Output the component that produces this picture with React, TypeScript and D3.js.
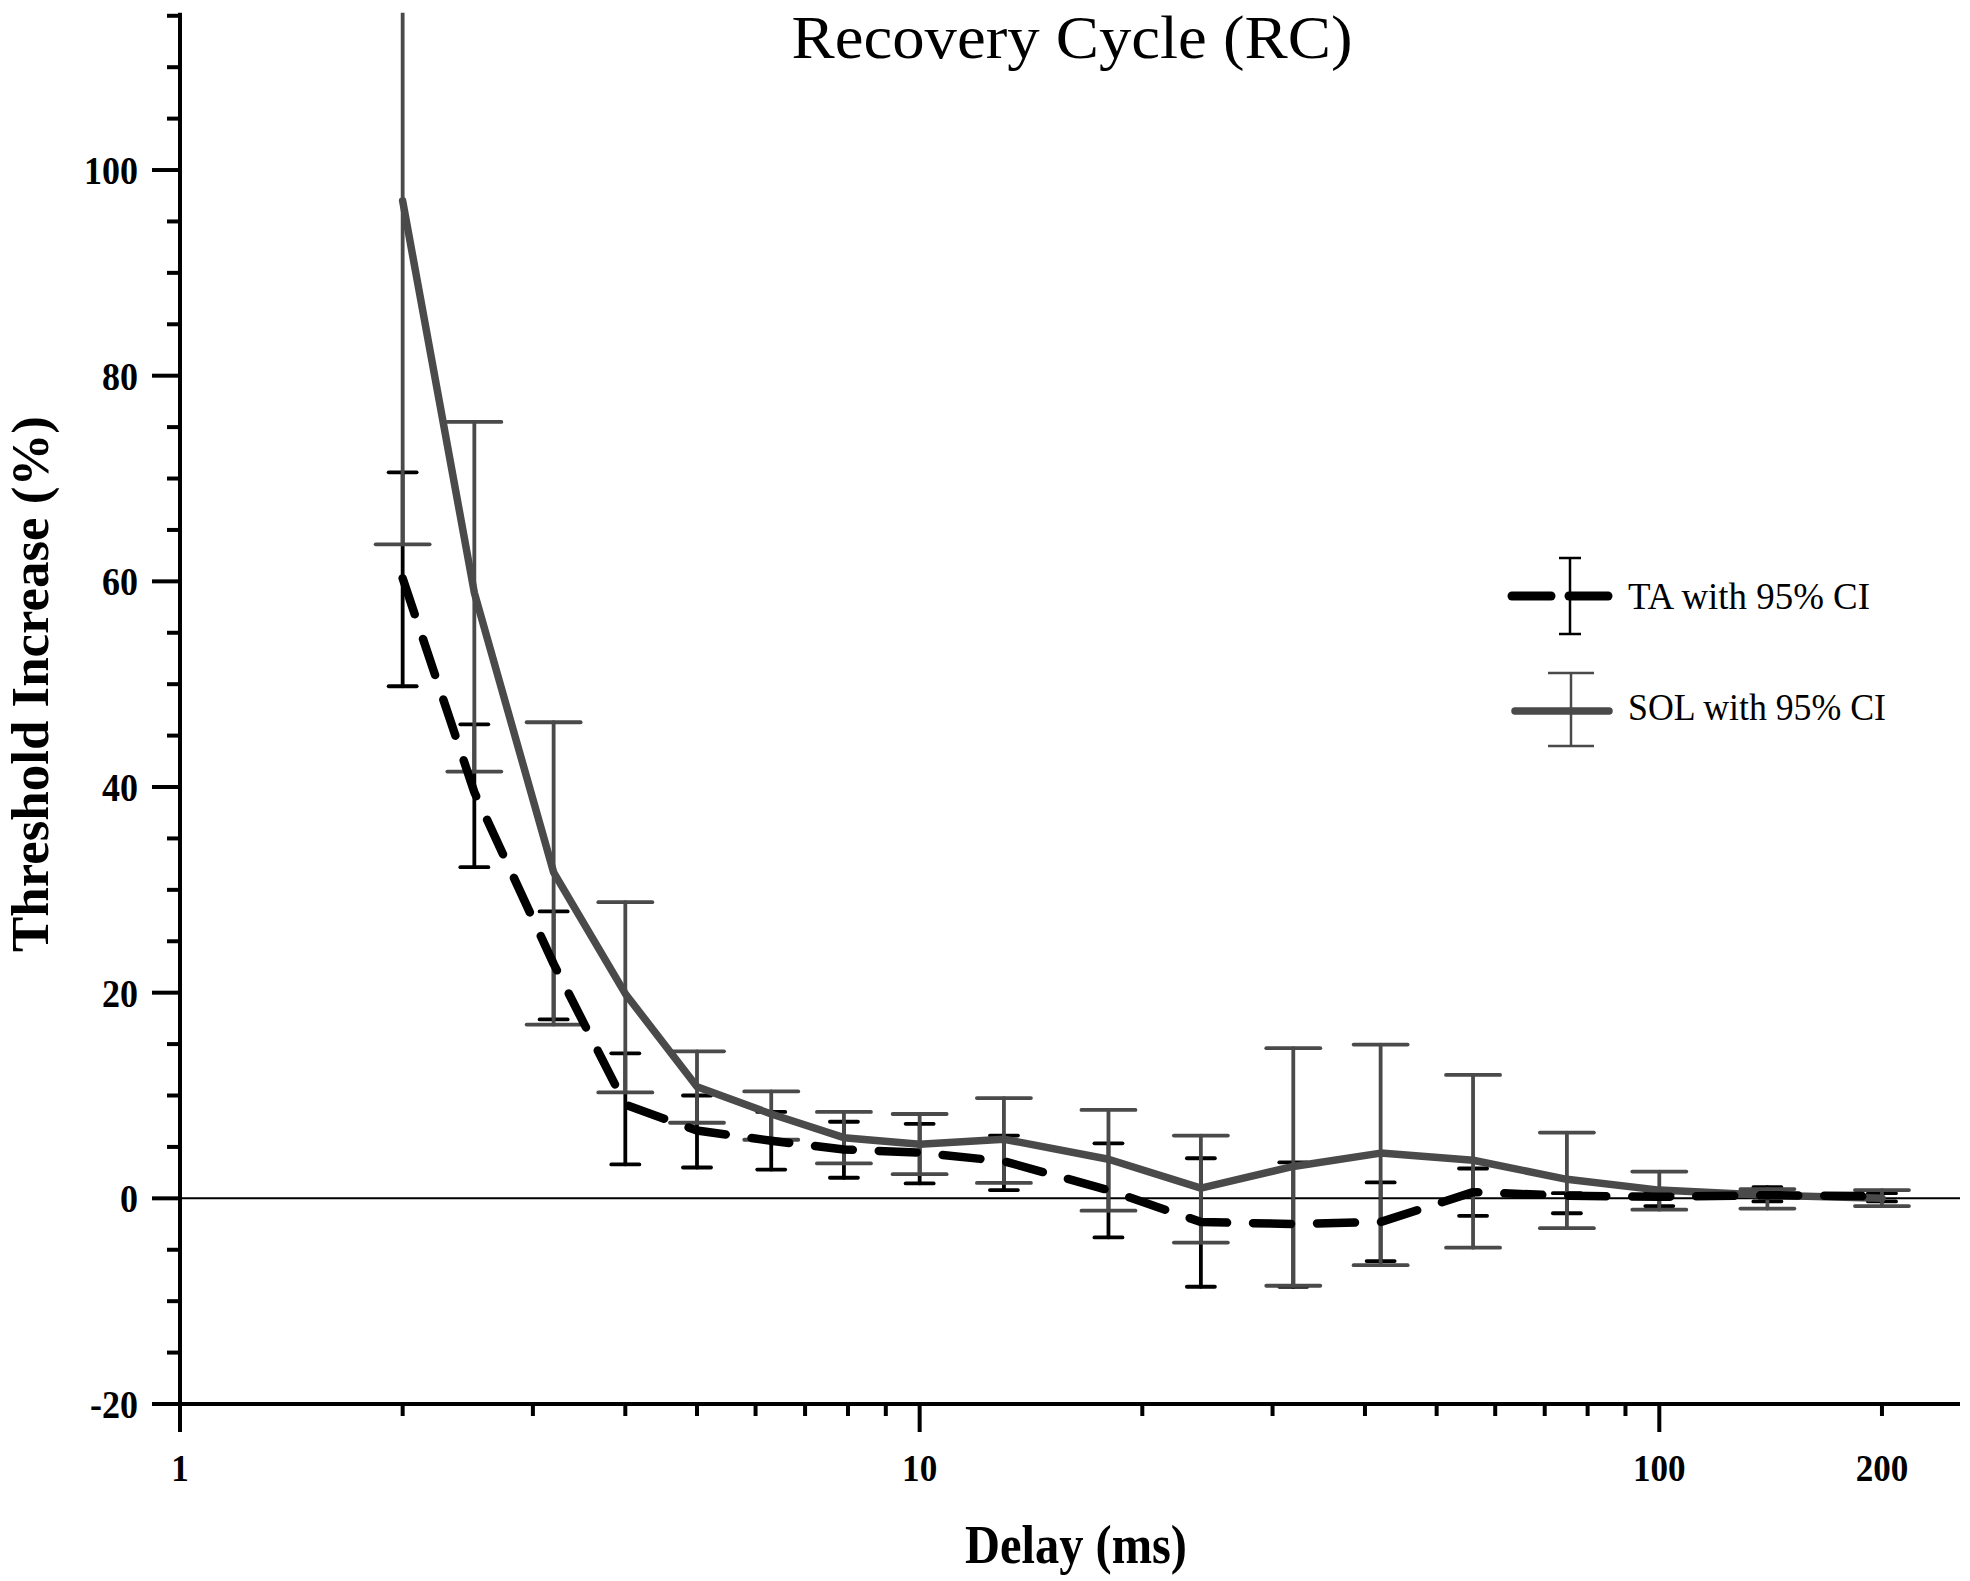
import React from 'react';
import * as d3 from 'd3';

// Conditioning-test delays (ms)
const delays = [2, 2.5, 3.2, 4, 5, 6.3, 7.9, 10, 13, 18, 24, 32, 42, 56, 75, 100, 140, 200];

// TA: mean threshold increase (%) with 95% CI
const taMean = [60.3, 39.5, 22.8, 9.1, 6.6, 5.6, 4.75, 4.45, 3.6, 0.8, -2.3, -2.5, -2.3, 0.6, 0.25, 0.15, 0.3, 0.2];
const taUpper = [70.6, 46.1, 27.9, 14.1, 10.0, 8.4, 7.45, 7.25, 6.1, 5.35, 3.9, 3.5, 1.55, 2.9, 0.5, 0.5, 1.1, 0.5];
const taLower = [49.8, 32.2, 17.4, 3.3, 3.0, 2.8, 2.0, 1.45, 0.8, -3.8, -8.6, -8.6, -6.1, -1.7, -1.45, -0.75, -0.3, -0.3];

// SOL: mean threshold increase (%) with 95% CI
const solMean = [97.0, 58.9, 31.7, 19.9, 10.85, 8.2, 5.9, 5.25, 5.75, 3.8, 1.0, 3.1, 4.4, 3.7, 1.85, 0.8, 0.3, 0.0];
const solUpper = [130, 75.5, 46.3, 28.8, 14.3, 10.4, 8.4, 8.2, 9.75, 8.6, 6.1, 14.6, 14.95, 12.0, 6.4, 2.6, 0.9, 0.8];
const solLower = [63.6, 41.5, 16.9, 10.3, 7.35, 5.7, 3.4, 2.35, 1.5, -1.2, -4.3, -8.5, -6.5, -4.8, -2.9, -1.1, -1.0, -0.75];

const xTickLabels = [1, 10, 100, 200];
const yTickLabels = [-20, 0, 20, 40, 60, 80, 100];

const W = 1970;
const H = 1581;
const SERIF = '"Liberation Serif", "Times New Roman", serif';
const SOL_COLOR = '#4a4a4a';

interface Pt {
  delay: number;
  mean: number;
  lo: number;
  hi: number;
}

const ta: Pt[] = delays.map((d, i) => ({ delay: d, mean: taMean[i], lo: taLower[i], hi: taUpper[i] }));
const sol: Pt[] = delays.map((d, i) => ({ delay: d, mean: solMean[i], lo: solLower[i], hi: solUpper[i] }));

export default function App() {
  const x = d3.scaleLog().domain([1, 255]).range([180, 1960]);
  const y = d3.scaleLinear().domain([-20, 115.3]).range([1404, 12.7]);

  const line = d3.line<Pt>()
    .x(d => x(d.delay))
    .y(d => y(d.mean));

  const xTicks = x.ticks();
  const isMajorX = (v: number) => Math.abs(Math.log10(v) - Math.round(Math.log10(v))) < 1e-9;
  const yTicks = d3.range(-20, 116, 5);

  const errorBars = (data: Pt[], color: string, capHalf: number, key: string) =>
    data.map((d, i) => {
      const cx = x(d.delay);
      return (
        <g key={`${key}-${i}`} stroke={color} strokeWidth={3.8} strokeLinecap="round">
          <line x1={cx} x2={cx} y1={y(d.lo)} y2={y(d.hi)} />
          <line x1={cx - capHalf} x2={cx + capHalf} y1={y(d.hi)} y2={y(d.hi)} />
          <line x1={cx - capHalf} x2={cx + capHalf} y1={y(d.lo)} y2={y(d.lo)} />
        </g>
      );
    });

  return (
    <div style={{ position: 'absolute', left: 0, top: 0 }}>
      <svg width={W} height={H} style={{ display: 'block', background: '#fff' }}>
        <defs>
          <clipPath id="plot-clip">
            <rect x={0} y={y(115.3)} width={W} height={H} />
          </clipPath>
        </defs>
        <rect width={W} height={H} fill="#fff" />

        {/* title */}
        <text x={1072} y={58} textAnchor="middle" fontFamily={SERIF} fontSize={61}
          textLength={561} lengthAdjust="spacingAndGlyphs">Recovery Cycle (RC)</text>

        {/* zero reference line */}
        <line x1={x(1)} x2={x(255)} y1={y(0)} y2={y(0)} stroke="#000" strokeWidth={2} />

        {/* data */}
        <g clipPath="url(#plot-clip)">
          {errorBars(ta, '#000', 14, 'ta')}
          {errorBars(sol, SOL_COLOR, 27, 'sol')}
          <path d={line(sol) || ''} fill="none" stroke={SOL_COLOR} strokeWidth={7.5}
            strokeLinejoin="round" strokeLinecap="round" />
          <path d={line(ta) || ''} fill="none" stroke="#000" strokeWidth={8.5}
            strokeDasharray="38 26" strokeLinejoin="round" strokeLinecap="round" />
        </g>

        {/* y axis */}
        <g stroke="#000" strokeWidth={4}>
          <line x1={x(1)} x2={x(1)} y1={y(115.3)} y2={y(-20)} />
          {yTicks.map(v => (
            <line key={`yt-${v}`} x1={v % 20 === 0 ? x(1) - 28 : x(1) - 13} x2={x(1)} y1={y(v)} y2={y(v)} />
          ))}
        </g>
        {yTickLabels.map(v => (
          <text key={`yl-${v}`} transform={`translate(138,${y(v)}) scale(0.9,1)`} dy="0.35em"
            textAnchor="end" fontFamily={SERIF} fontWeight="bold" fontSize={40}>{v}</text>
        ))}

        {/* x axis */}
        <g stroke="#000" strokeWidth={4}>
          <line x1={x(1) - 2} x2={x(255)} y1={y(-20)} y2={y(-20)} />
          {xTicks.map(v => (
            <line key={`xt-${v}`} x1={x(v)} x2={x(v)} y1={y(-20)} y2={y(-20) + (isMajorX(v) ? 28 : 12)} />
          ))}
        </g>
        {xTickLabels.map(v => (
          <text key={`xl-${v}`} transform={`translate(${x(v)},1481) scale(0.9,1)`}
            textAnchor="middle" fontFamily={SERIF} fontWeight="bold" fontSize={39}>{v}</text>
        ))}

        {/* axis titles */}
        <text x={1076} y={1563} textAnchor="middle" fontFamily={SERIF} fontWeight="bold" fontSize={54}
          textLength={222} lengthAdjust="spacingAndGlyphs">Delay (ms)</text>
        <text transform="translate(48,684) rotate(-90)" textAnchor="middle" fontFamily={SERIF}
          fontWeight="bold" fontSize={52} textLength={536} lengthAdjust="spacingAndGlyphs">
          Threshold Increase (%)
        </text>

        {/* legend */}
        <g>
          <g stroke="#000" strokeWidth={9} strokeLinecap="round">
            <line x1={1512} x2={1551} y1={596} y2={596} />
            <line x1={1569} x2={1608} y1={596} y2={596} />
          </g>
          <g stroke="#000" strokeWidth={2.5}>
            <line x1={1570} x2={1570} y1={558} y2={634} />
            <line x1={1559} x2={1581} y1={558} y2={558} />
            <line x1={1559} x2={1581} y1={634} y2={634} />
          </g>
          <text x={1628} y={609} fontFamily={SERIF} fontSize={38}
            textLength={242} lengthAdjust="spacingAndGlyphs">TA with 95% CI</text>

          <line x1={1515} x2={1609} y1={711} y2={711} stroke={SOL_COLOR} strokeWidth={7.5} strokeLinecap="round" />
          <g stroke={SOL_COLOR} strokeWidth={2.5}>
            <line x1={1571} x2={1571} y1={673} y2={746} />
            <line x1={1548} x2={1594} y1={673} y2={673} />
            <line x1={1548} x2={1594} y1={746} y2={746} />
          </g>
          <text x={1628} y={720} fontFamily={SERIF} fontSize={38}
            textLength={258} lengthAdjust="spacingAndGlyphs">SOL with 95% CI</text>
        </g>
      </svg>
    </div>
  );
}
